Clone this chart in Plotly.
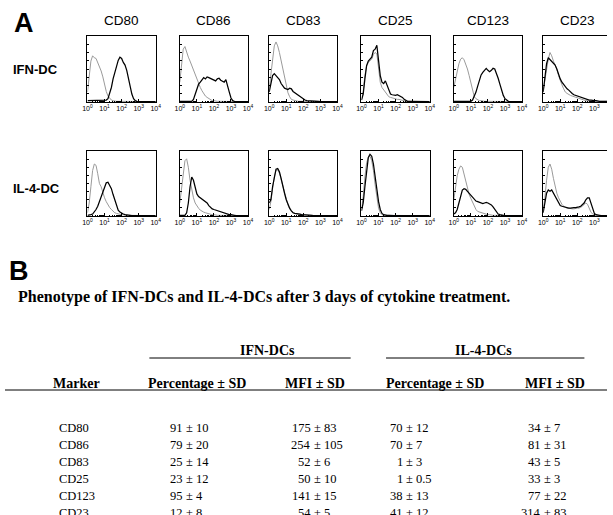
import math
import plotly.graph_objects as go

W, H = 613, 515

# ---------------- data: panel A (flow cytometry histograms) ----------------
markers = ["CD80", "CD86", "CD83", "CD25", "CD123", "CD23"]
row_labels = ["IFN-DC", "IL-4-DC"]
log_fluorescence = [0.0, 0.1, 0.2, 0.3, 0.4, 0.5, 0.6, 0.7, 0.8, 0.9,
                    1.0, 1.1, 1.2, 1.3, 1.4, 1.5, 1.6, 1.7, 1.8, 1.9,
                    2.0, 2.1, 2.2, 2.3, 2.4, 2.5, 2.6, 2.7, 2.8, 2.9,
                    3.0, 3.1, 3.2, 3.3, 3.4, 3.5, 3.6, 3.7, 3.8, 3.9, 4.0]
decade_ticks = [0, 1, 2, 3, 4]
decade_labels = ["10<sup>0</sup>", "10<sup>1</sup>", "10<sup>2</sup>", "10<sup>3</sup>", "10<sup>4</sup>"]

# relative cell counts (% of panel height); iso = isotype control (grey), stain = marker (black)
ifn_cd80_iso = [15, 40, 62, 70, 67, 66, 60, 55, 47, 38, 26, 16, 9, 5, 3, 2, 1, 1, 1, 1, 1, 1, 1, 1,
                0.5, 0.5, 0.5, 0.5, 0.5, 0.5, 0.5, 0.5, 0.5, 0.5, 0.5, 0.5, 0.5, 0.5, 0.5, 0.5, 0.5]
ifn_cd80_stain = [2, 2, 2, 2, 2, 2, 2, 2, 2, 2, 2, 3, 5, 12, 22, 35, 45, 55, 63, 68, 66, 60, 56, 48, 35,
                  22, 12, 5, 2, 1, 1, 0.5, 0.5, 0.5, 0.5, 0.5, 0.5, 0.5, 0.5, 0.5, 0.5]
ifn_cd86_iso = [30, 60, 80, 84, 75, 68, 62, 55, 48, 40, 33, 27, 22, 17, 12, 9, 7, 5, 3, 2, 2, 1, 1, 1,
                1, 1, 1, 1, 1, 1, 0.5, 0.5, 0.5, 0.5, 0.5, 0.5, 0.5, 0.5, 0.5, 0.5, 0.5]
ifn_cd86_stain = [1, 1, 1, 1, 1, 1, 1, 1, 4, 12, 22, 27, 30, 34, 37, 35, 38, 37, 36, 35, 33, 32, 35, 36,
                  33, 31, 30, 34, 26, 15, 6, 2, 1, 0.5, 0.5, 0.5, 0.5, 0.5, 0.5, 0.5, 0.5]
ifn_cd83_iso = [20, 45, 70, 85, 91, 85, 75, 62, 50, 35, 25, 14, 8, 4, 3, 2, 2, 1, 1, 1, 1, 1, 1, 1, 1,
                0.5, 0.5, 0.5, 0.5, 0.5, 0.5, 0.5, 0.5, 0.5, 0.5, 0.5, 0.5, 0.5, 0.5, 0.5, 0.5]
ifn_cd83_stain = [15, 30, 40, 43, 40, 37, 34, 28, 24, 21, 20, 19, 21, 20, 16, 14, 12, 10, 8, 6, 5, 3, 2,
                  2, 1, 1, 1, 1, 1, 1, 0.5, 0.5, 0.5, 0.5, 0.5, 0.5, 0.5, 0.5, 0.5, 0.5, 0.5]
ifn_cd25_iso = [3, 15, 40, 55, 60, 62, 65, 72, 75, 73, 50, 30, 22, 18, 15, 10, 8, 7, 6, 5, 5, 4, 4, 3,
                2, 1, 1, 1, 1, 1, 0.5, 0.5, 0.5, 0.5, 0.5, 0.5, 0.5, 0.5, 0.5, 0.5, 0.5]
ifn_cd25_stain = [3, 12, 35, 55, 62, 65, 68, 78, 80, 86, 60, 40, 30, 28, 32, 25, 17, 12, 11, 10, 10, 11,
                  10, 9, 7, 4, 2, 1, 1, 1, 0.5, 0.5, 0.5, 0.5, 0.5, 0.5, 0.5, 0.5, 0.5, 0.5, 0.5]
ifn_cd123_iso = [22, 35, 48, 58, 65, 67, 64, 58, 50, 40, 28, 15, 8, 5, 3, 2, 2, 1, 1, 1, 1, 1, 1, 1, 1,
                 0.5, 0.5, 0.5, 0.5, 0.5, 0.5, 0.5, 0.5, 0.5, 0.5, 0.5, 0.5, 0.5, 0.5, 0.5, 0.5]
ifn_cd123_stain = [1, 1, 1, 1, 1, 1, 1, 1, 1, 1, 1, 3, 8, 15, 24, 33, 41, 45, 48, 51, 48, 46, 48, 51, 50,
                   44, 36, 27, 18, 10, 5, 3, 1, 0.5, 0.5, 0.5, 0.5, 0.5, 0.5, 0.5, 0.5]
ifn_cd23_iso = [17, 35, 52, 65, 75, 70, 62, 56, 50, 40, 32, 26, 20, 15, 13, 11, 10, 9, 8, 7, 6, 5, 4, 3,
                3, 2, 2, 1, 1, 1, 1, 1, 1, 1, 1, 1, 1, 1, 1, 1, 1]
ifn_cd23_stain = [15, 40, 58, 67, 64, 62, 58, 56, 50, 42, 35, 30, 26, 22, 20, 18, 15, 13, 11, 10, 9, 8,
                  7, 6, 5, 5, 4, 3, 3, 2, 2, 2, 1, 1, 1, 1, 1, 1, 1, 1, 1]

il4_cd80_iso = [5, 20, 45, 70, 80, 78, 65, 50, 45, 35, 28, 22, 17, 13, 10, 7, 5, 4, 3, 2, 2, 2, 1, 1, 1,
                1, 1, 0.5, 0.5, 0.5, 0.5, 0.5, 0.5, 0.5, 0.5, 0.5, 0.5, 0.5, 0.5, 0.5, 0.5]
il4_cd80_stain = [1, 1, 2, 3, 6, 10, 15, 22, 30, 38, 45, 51, 52, 48, 42, 33, 24, 15, 9, 6, 4, 3, 2, 2,
                  1, 1, 0.5, 0.5, 0.5, 0.5, 0.5, 0.5, 0.5, 0.5, 0.5, 0.5, 0.5, 0.5, 0.5, 0.5, 0.5]
il4_cd86_iso = [20, 45, 70, 85, 88, 75, 55, 40, 28, 20, 15, 12, 9, 7, 6, 5, 4, 3, 3, 2, 2, 1, 1, 1, 1,
                1, 1, 1, 0.5, 0.5, 0.5, 0.5, 0.5, 0.5, 0.5, 0.5, 0.5, 0.5, 0.5, 0.5, 0.5]
il4_cd86_stain = [1, 1, 1, 1, 5, 20, 45, 60, 55, 42, 34, 30, 28, 26, 25, 22, 20, 16, 13, 11, 10, 9, 8,
                  7, 6, 5, 4, 3, 3, 2, 2, 1, 1, 0.5, 0.5, 0.5, 0.5, 0.5, 0.5, 0.5, 0.5]
il4_cd83_iso = [10, 22, 42, 60, 70, 71, 66, 56, 44, 33, 24, 17, 11, 7, 5, 4, 3, 3, 2, 2, 2, 1, 1, 1, 1,
                1, 0.5, 0.5, 0.5, 0.5, 0.5, 0.5, 0.5, 0.5, 0.5, 0.5, 0.5, 0.5, 0.5, 0.5, 0.5]
il4_cd83_stain = [20, 25, 45, 62, 72, 73, 68, 58, 45, 35, 25, 18, 12, 8, 5, 4, 4, 3, 3, 2, 2, 2, 1, 1,
                  1, 1, 0.5, 0.5, 0.5, 0.5, 0.5, 0.5, 0.5, 0.5, 0.5, 0.5, 0.5, 0.5, 0.5, 0.5, 0.5]
il4_cd25_iso = [10, 30, 60, 82, 90, 92, 85, 70, 48, 28, 12, 5, 2, 1, 1, 0.5, 0.5, 0.5, 0.5, 0.5, 0.5,
                0.5, 0.5, 0.5, 0.5, 0.5, 0.5, 0.5, 0.5, 0.5, 0.5, 0.5, 0.5, 0.5, 0.5, 0.5, 0.5, 0.5, 0.5,
                0.5, 0.5]
il4_cd25_stain = [8, 20, 45, 72, 90, 95, 92, 80, 60, 40, 22, 10, 4, 2, 1, 1, 1, 0.5, 0.5, 0.5, 0.5, 0.5,
                  0.5, 0.5, 0.5, 0.5, 0.5, 0.5, 0.5, 0.5, 0.5, 0.5, 0.5, 0.5, 0.5, 0.5, 0.5, 0.5, 0.5,
                  0.5, 0.5]
il4_cd123_iso = [25, 45, 62, 72, 77, 75, 65, 52, 42, 33, 27, 21, 15, 10, 7, 6, 5, 4, 3, 2, 2, 2, 1, 1,
                 1, 1, 1, 0.5, 0.5, 0.5, 0.5, 0.5, 0.5, 0.5, 0.5, 0.5, 0.5, 0.5, 0.5, 0.5, 0.5]
il4_cd123_stain = [3, 5, 10, 20, 32, 40, 42, 41, 38, 35, 31, 28, 25, 23, 22, 21, 20, 19, 20, 21, 20, 19,
                   17, 14, 10, 6, 3, 2, 1, 1, 0.5, 0.5, 0.5, 0.5, 0.5, 0.5, 0.5, 0.5, 0.5, 0.5, 0.5]
il4_cd23_iso = [10, 28, 55, 75, 80, 72, 58, 45, 35, 28, 22, 18, 15, 13, 12, 12, 11, 11, 11, 12, 12, 12,
                13, 15, 18, 20, 18, 12, 6, 3, 1, 1, 0.5, 0.5, 0.5, 0.5, 0.5, 0.5, 0.5, 0.5, 0.5]
il4_cd23_stain = [5, 22, 35, 40, 38, 40, 35, 30, 25, 20, 16, 15, 14, 13, 12, 12, 12, 13, 13, 13, 13, 14,
                  15, 17, 20, 25, 28, 28, 20, 10, 4, 2, 1, 1, 0.5, 0.5, 0.5, 0.5, 0.5, 0.5, 0.5]

# ---------------- data: panel B (table) ----------------
table_title = "Phenotype of IFN-DCs and IL-4-DCs after 3 days of cytokine treatment."
ifn_pct_mean = [91, 79, 25, 23, 95, 12]
ifn_pct_sd = [10, 20, 14, 12, 4, 8]
ifn_mfi_mean = [175, 254, 52, 50, 141, 54]
ifn_mfi_sd = [83, 105, 6, 10, 15, 5]
il4_pct_mean = [70, 70, 1, 1, 38, 41]
il4_pct_sd = [12, 7, 3, 0.5, 13, 12]
il4_mfi_mean = [34, 81, 43, 33, 77, 314]
il4_mfi_sd = [7, 31, 5, 3, 22, 83]

iso_rows = [
    [ifn_cd80_iso, ifn_cd86_iso, ifn_cd83_iso, ifn_cd25_iso, ifn_cd123_iso, ifn_cd23_iso],
    [il4_cd80_iso, il4_cd86_iso, il4_cd83_iso, il4_cd25_iso, il4_cd123_iso, il4_cd23_iso],
]
stain_rows = [
    [ifn_cd80_stain, ifn_cd86_stain, ifn_cd83_stain, ifn_cd25_stain, ifn_cd123_stain, ifn_cd23_stain],
    [il4_cd80_stain, il4_cd86_stain, il4_cd83_stain, il4_cd25_stain, il4_cd123_stain, il4_cd23_stain],
]

# ---------------- layout geometry (pixels) ----------------
panel_left = [84, 178, 269, 363, 457, 548]
panel_w = 69.5
row_top = [36, 151]
row_bottom = [102, 216]

SANS = "Liberation Sans, Arial, sans-serif"
SERIF = "Liberation Serif, Times New Roman, serif"


def px(x):
    return x / W


def py(y):
    return 1 - y / H


minor_vals = [d + math.log10(k) for d in range(4) for k in range(2, 10)]

fig = go.Figure()
layout = dict(
    width=W, height=H,
    margin=dict(l=0, r=0, t=0, b=0),
    paper_bgcolor="white", plot_bgcolor="white",
    showlegend=False,
)

for r in range(2):
    for c in range(6):
        idx = r * 6 + c + 1
        xa = "x" if idx == 1 else f"x{idx}"
        ya = "y" if idx == 1 else f"y{idx}"
        right = min(panel_left[c] + panel_w, W)
        vis_w = right - panel_left[c]
        xmax = 4 * vis_w / panel_w
        fig.add_trace(go.Scatter(x=log_fluorescence, y=iso_rows[r][c], mode="lines",
                                 line=dict(color="#9a9a9a", width=1), xaxis=xa, yaxis=ya,
                                 hoverinfo="skip"))
        fig.add_trace(go.Scatter(x=log_fluorescence, y=stain_rows[r][c], mode="lines",
                                 line=dict(color="black", width=1.25), xaxis=xa, yaxis=ya,
                                 hoverinfo="skip"))
        xkey = "xaxis" if idx == 1 else f"xaxis{idx}"
        ykey = "yaxis" if idx == 1 else f"yaxis{idx}"
        layout[xkey] = dict(
            domain=[px(panel_left[c]), px(right)], anchor=ya, range=[0, xmax],
            showline=True, linecolor="black", linewidth=1, mirror=True,
            ticks="inside", ticklen=3, tickwidth=1, tickcolor="black",
            tickmode="array", tickvals=decade_ticks, ticktext=decade_labels,
            tickfont=dict(family=SANS, size=7, color="black"),
            minor=dict(tickmode="array", tickvals=minor_vals, ticks="inside", ticklen=1.5,
                       tickcolor="black", tickwidth=1),
            showgrid=False, zeroline=False, fixedrange=True,
        )
        layout[ykey] = dict(
            domain=[py(row_bottom[r]), py(row_top[r])], anchor=xa, range=[0, 100],
            showline=True, linecolor="black", linewidth=1, mirror=(c != 5),
            ticks="inside", ticklen=2, tickwidth=1, tickcolor="black", dtick=12.5,
            showticklabels=False, showgrid=False, zeroline=False, fixedrange=True,
        )

annotations = []


def text(x, y, s, size, family, bold=False, xanchor="left", yanchor="middle"):
    annotations.append(dict(
        x=px(x), y=py(y), xref="paper", yref="paper", text=(f"<b>{s}</b>" if bold else s),
        showarrow=False, xanchor=xanchor, yanchor=yanchor, borderpad=0, borderwidth=0,
        font=dict(family=family, size=size, color="black"),
    ))


# Panel A texts
text(9, 23, "A", 27, SANS, bold=True)
for c, m in enumerate(markers):
    text(panel_left[c] + panel_w / 2, 21, m, 13.5, SANS, xanchor="center")
text(8, 70, row_labels[0], 13, SANS, bold=True)
text(8, 189, row_labels[1], 13, SANS, bold=True)

# Panel B texts
text(4, 271, "B", 27, SANS, bold=True)
text(13, 297, table_title, 16, SERIF, bold=True)
text(267, 350, "IFN-DCs", 14, SERIF, bold=True, xanchor="center")
text(487, 350, "IL-4-DCs", 14, SERIF, bold=True, xanchor="center")
text(73, 383, "Marker", 14, SERIF, bold=True, xanchor="center")
text(195, 383, "Percentage ± SD", 14, SERIF, bold=True, xanchor="center")
text(316, 383, "MFI ± SD", 14, SERIF, bold=True, xanchor="center")
text(438, 383, "Percentage ± SD", 14, SERIF, bold=True, xanchor="center")
text(560, 383, "MFI ± SD", 14, SERIF, bold=True, xanchor="center")

row_y0, row_dy = 428, 16.9
pm_x = [184, 315, 408, 549]
columns = [(ifn_pct_mean, ifn_pct_sd), (ifn_mfi_mean, ifn_mfi_sd),
           (il4_pct_mean, il4_pct_sd), (il4_mfi_mean, il4_mfi_sd)]
for i, m in enumerate(markers):
    y = row_y0 + i * row_dy
    text(55, y, m, 12.5, SERIF)
    for (means, sds), xp in zip(columns, pm_x):
        text(xp - 3, y, f"{means[i]:g}", 12.5, SERIF, xanchor="right")
        text(xp, y, f"±\u00a0{sds[i]:g}", 12.5, SERIF, xanchor="left")

layout["annotations"] = annotations

shapes = []
for x0, x1, y in [(147, 352, 358), (388, 590, 358), (0, W, 390)]:
    shapes.append(dict(type="line", xref="paper", yref="paper", x0=px(x0), x1=px(x1),
                       y0=py(y), y1=py(y), line=dict(color="black", width=1)))
layout["shapes"] = shapes

fig.update_layout(**layout)
fig.write_html(
    "out.html",
    config=dict(displayModeBar=False),
    post_script="document.body.style.margin='0px';document.body.style.overflow='hidden';",
)
